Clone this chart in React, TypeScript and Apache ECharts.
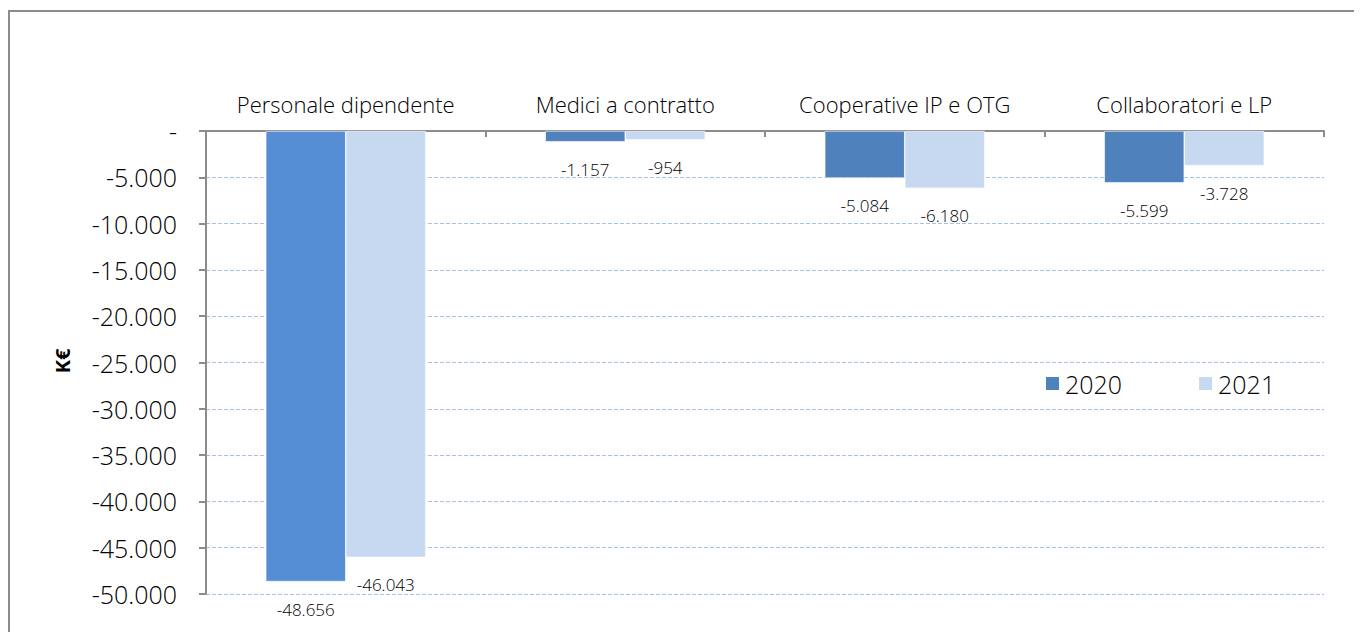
import React, { useEffect, useRef } from "react";
import * as echarts from "echarts";

const categories = ["Personale dipendente", "Medici a contratto", "Cooperative IP e OTG", "Collaboratori e LP"];
const values2020 = [-48656, -1157, -5084, -5599];
const values2021 = [-46043, -954, -6180, -3728];
const seriesNames = ["2020", "2021"];
const yAxisTitle = "K€";

const FONT = "'Open Sans', 'DejaVu Sans', sans-serif";

function fmt(v: number): string {
  if (v === 0) return "-";
  const s = Math.abs(Math.round(v)).toString().replace(/\B(?=(\d{3})+(?!\d))/g, ".");
  return (v < 0 ? "-" : "") + s;
}

export default function App() {
  const ref = useRef<HTMLDivElement>(null);
  useEffect(() => {
    if (!ref.current) return;
    const chart = echarts.init(ref.current, null, { renderer: "svg" });
    const labelCfg = {
      show: true,
      position: "bottom" as const,
      distance: 19,
      fontFamily: FONT,
      fontWeight: 300,
      fontSize: 17,
      color: "#000",
      formatter: (p: any) => fmt(p.value),
    };
    chart.setOption({
      animation: false,
      backgroundColor: "#fff",
      color: ["#4F81BD", "#C6D9F1"],
      textStyle: { fontFamily: FONT },
      graphic: [
        {
          type: "rect",
          shape: { x: 1, y: 3, width: 1500, height: 800 },
          style: { fill: "none", stroke: "#8c8c8c", lineWidth: 2 },
          silent: true,
          z: 100,
        },
        {
          type: "text",
          x: 54,
          y: 353,
          rotation: Math.PI / 2,
          style: {
            text: yAxisTitle,
            fontFamily: FONT,
            fontSize: 20,
            fontWeight: "bold",
            fill: "#000",
            align: "center",
            verticalAlign: "middle",
          },
        },
      ],
      grid: { left: 198, right: 30, top: 123, bottom: 38, containLabel: false },
      legend: {
        data: seriesNames,
        left: 1036,
        top: 363,
        padding: 0,
        itemWidth: 15,
        itemHeight: 15,
        itemGap: 75,
        icon: "rect",
        textStyle: { fontFamily: FONT, fontWeight: 300, fontSize: 25, color: "#000" },
      },
      xAxis: {
        type: "category",
        position: "top",
        data: categories,
        axisLine: { show: true, lineStyle: { color: "#8c8c8c", width: 2 } },
        axisTick: { show: true, inside: true, length: 6, lineStyle: { color: "#8c8c8c", width: 2 } },
        axisLabel: {
          interval: 0,
          hideOverlap: false,
          fontFamily: FONT,
          fontWeight: 300,
          fontSize: 22,
          color: "#000",
          margin: 16,
        },
        splitLine: { show: false },
      },
      yAxis: {
        type: "value",
        min: -50000,
        max: 0,
        interval: 5000,
        axisLine: { show: true, lineStyle: { color: "#8c8c8c", width: 2 } },
        axisTick: { show: true, length: 7, lineStyle: { color: "#8c8c8c", width: 2 } },
        axisLabel: {
          fontFamily: FONT,
          fontWeight: 300,
          fontSize: 25,
          color: "#000",
          margin: 29,
          formatter: (v: number) => fmt(v),
        },
        splitLine: { show: true, lineStyle: { color: "#A9C1E6", type: [4, 2], width: 1 } },
      },
      series: [
        {
          name: seriesNames[0],
          type: "bar",
          data: values2020.map((v, i) => (i === 0 ? { value: v, itemStyle: { color: "#558ED5" } } : v)),
          barWidth: 80,
          barGap: "0%",
          itemStyle: { color: "#4F81BD", borderColor: "#ffffff", borderWidth: 0.6 },
          label: labelCfg,
        },
        {
          name: seriesNames[1],
          type: "bar",
          data: values2021,
          barWidth: 80,
          barGap: "0%",
          itemStyle: { color: "#C6D9F1", borderColor: "#ffffff", borderWidth: 0.6 },
          label: labelCfg,
        },
      ],
    });
    return () => chart.dispose();
  }, []);
  return <div ref={ref} style={{ width: 1346, height: 624 }} />;
}
